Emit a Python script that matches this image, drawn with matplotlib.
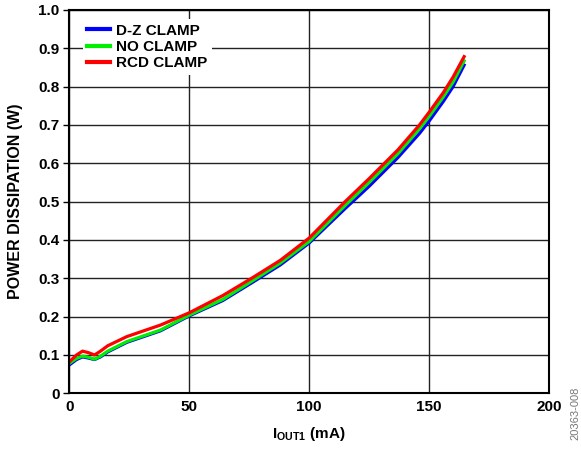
import numpy as np
import matplotlib
matplotlib.use('Agg')
import matplotlib.pyplot as plt

plt.rcParams['font.family'] = ['Liberation Sans', 'DejaVu Sans']
plt.rcParams['font.weight'] = 'bold'
plt.rcParams['mathtext.fontset'] = 'custom'
plt.rcParams['mathtext.rm'] = 'Liberation Sans:bold'
plt.rcParams['mathtext.bf'] = 'Liberation Sans:bold'

# corriente de salida (mA) y potencia disipada (W)
iout = [0, 3, 5.5, 8, 10.5, 13, 16, 24, 38, 50, 64, 76, 88, 100, 115, 125, 137, 146, 150,
        156, 160, 164.6]
p_dz = [0.074, 0.088, 0.095, 0.092, 0.088, 0.095, 0.108, 0.133, 0.163, 0.202, 0.242, 0.288,
        0.335, 0.392, 0.482, 0.540, 0.615, 0.678, 0.710, 0.762, 0.800, 0.856]
p_no = [0.078, 0.091, 0.097, 0.094, 0.089, 0.097, 0.110, 0.135, 0.165, 0.204, 0.245, 0.292,
        0.340, 0.396, 0.490, 0.550, 0.625, 0.690, 0.722, 0.774, 0.812, 0.867]
p_rcd = [0.082, 0.100, 0.110, 0.106, 0.100, 0.110, 0.124, 0.148, 0.178, 0.210, 0.255, 0.300,
         0.347, 0.405, 0.500, 0.560, 0.635, 0.700, 0.733, 0.785, 0.825, 0.878]

xticks = [0, 50, 100, 150, 200]
yticks = [0, 0.1, 0.2, 0.3, 0.4, 0.5, 0.6, 0.7, 0.8, 0.9, 1.0]
ylabels = ['0', '0.1', '0.2', '0.3', '0.4', '0.5', '0.6', '0.7', '0.8', '0.9', '1.0']

fig = plt.figure(figsize=(5.81, 4.49), dpi=100)
ax = fig.add_axes([0.1193, 0.124, 0.8257, 0.854])

ax.plot(iout, p_dz, c='#0000ff', lw=2.3, label='D-Z CLAMP')
ax.plot(iout, p_no, c='#00ee00', lw=2.3, label='NO CLAMP')
ax.plot(iout, p_rcd, c='#ff0000', lw=2.3, label='RCD CLAMP')

ax.set_xlim(0, 200)
ax.set_ylim(0, 1.0)
ax.set_xticks(xticks)
ax.set_yticks(yticks)
ax.set_yticklabels(ylabels)
ax.tick_params(axis='x', length=0, pad=5, labelsize=11)
ax.tick_params(axis='y', length=4, direction='out', width=1, labelsize=11, pad=3)
ax.grid(True, color='#222222', lw=1)
ax.set_axisbelow(True)
for s in ax.spines.values():
    s.set_linewidth(1.5)

ax.set_ylabel('POWER DISSIPATION (W)', fontsize=11.5, fontweight='bold')
ax.yaxis.set_label_coords(-0.096, 0.5)
ax.set_xlabel(r'$\mathbf{I}_{\mathbf{OUT1}}$ (mA)', fontsize=11, fontweight='bold', labelpad=8)

leg = ax.legend(loc='upper left', bbox_to_anchor=(0.015, 0.992), frameon=True, fontsize=11,
                handlelength=1.5, handletextpad=0.4, labelspacing=0.15, borderpad=0.3,
                borderaxespad=0.4, fancybox=False)
leg.get_frame().set_edgecolor('none')
leg.get_frame().set_facecolor('white')
leg.get_frame().set_alpha(1)
for ln in leg.get_lines():
    ln.set_linewidth(3)

fig.text(0.99, 0.08, '20363-008', rotation=90, fontsize=8, color='#777777',
         fontweight='normal', ha='center', va='center')

plt.savefig('out.png', dpi=100)
